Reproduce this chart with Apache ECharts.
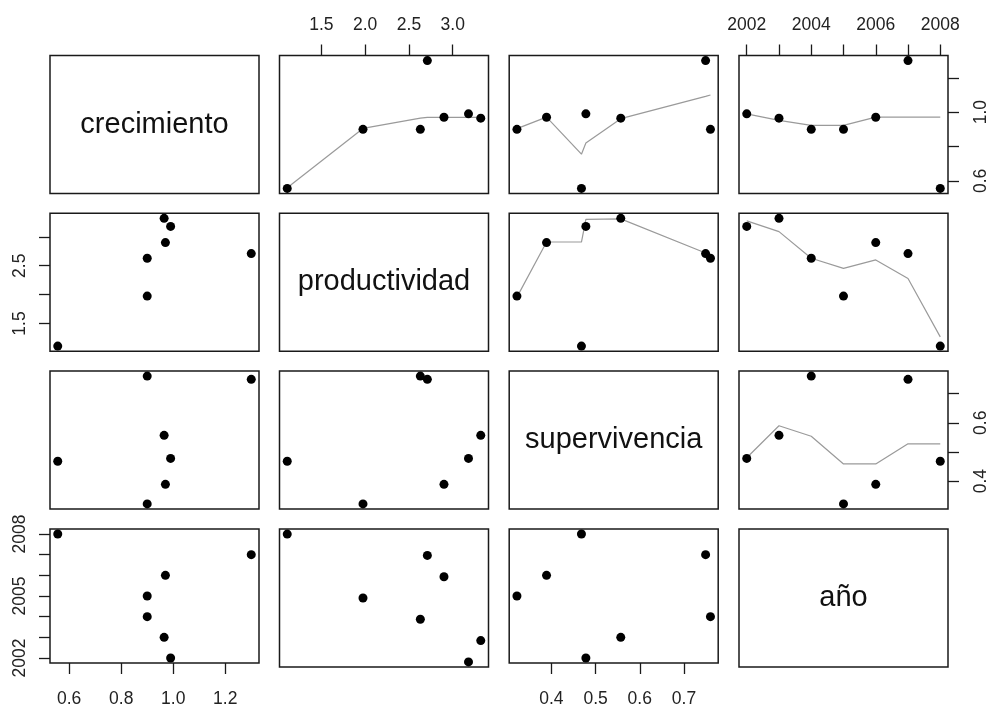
<!DOCTYPE html>
<html>
<head>
<meta charset="utf-8">
<script src="https://cdn.jsdelivr.net/npm/echarts@6/dist/echarts.min.js"></script>
<style>
html,body{margin:0;padding:0;background:#fff;}
#chart{width:990px;height:708px;}
</style>
</head>
<body>
<div id="chart"></div>
<script>
// ---- data (one value per year) ----
const anio = [2002, 2003, 2004, 2005, 2006, 2007, 2008];
const crecimiento = [0.99, 0.965, 0.90, 0.90, 0.97, 1.30, 0.556];
const productividad = [3.18, 3.32, 2.63, 1.975, 2.90, 2.71, 1.11];
const supervivencia = [0.478, 0.557, 0.76, 0.322, 0.389, 0.749, 0.468];

// ---- smoother (lowess) fitted values, in order of ascending x ----
const smoothCrecProd = [0.56, 0.905, 0.965, 0.97, 0.97, 0.97, 0.97];
const smoothCrecSuperv = [0.904, 0.971, 0.755, 0.82, 0.962, 1.092, 1.10];
const smoothCrecAnio = [0.99, 0.952, 0.923, 0.923, 0.971, 0.971, 0.971];
const smoothProdSuperv = [1.957, 2.91, 2.91, 3.30, 3.31, 2.72, 2.63];
const smoothProdAnio = [3.275, 3.09, 2.63, 2.455, 2.60, 2.28, 1.27];
const smoothSupervAnio = [0.48, 0.59, 0.554, 0.459, 0.459, 0.528, 0.528];

// ---- labels / ticks ----
const varNames = ['crecimiento', 'productividad', 'supervivencia', 'año'];
const tickValues = [[0.6, 0.8, 1.0, 1.2], [1.5, 2.0, 2.5, 3.0], [0.4, 0.5, 0.6, 0.7], [2002, 2003, 2004, 2005, 2006, 2007, 2008]];
const xLabelValues = [[0.6, 0.8, 1.0, 1.2], [1.5, 2.0, 2.5, 3.0], [0.4, 0.5, 0.6, 0.7], [2002, 2004, 2006, 2008]];
const yLabelValues = [[0.6, 1.0], [1.5, 2.5], [0.4, 0.6], [2002, 2005, 2008]];

const vars = [crecimiento, productividad, supervivencia, anio];
const smooths = {
  '0-1': smoothCrecProd, '0-2': smoothCrecSuperv, '0-3': smoothCrecAnio,
  '1-2': smoothProdSuperv, '1-3': smoothProdAnio, '2-3': smoothSupervAnio
};

// ---- layout ----
const lefts = [50, 279.5, 509.2, 739];
const tops = [55.5, 213.2, 371, 529];
const W = 209, H = 138;
const FONT = '"Liberation Sans", Arial, sans-serif';
const INK = '#1a1a1a';

function range(v) {
  const mn = Math.min(...v), mx = Math.max(...v);
  const p = (mx - mn) * 0.04;
  return [mn - p, mx + p];
}
function fmt(idx) {
  return idx === 3 ? (v => String(Math.round(v))) : (v => Number(v).toFixed(1));
}

const grids = [], xAxes = [], yAxes = [], series = [], graphics = [];
let gi = 0;
for (let r = 0; r < 4; r++) {
  for (let c = 0; c < 4; c++) {
    grids.push({
      left: lefts[c], top: tops[r], width: W, height: H,
      show: true, borderColor: INK, borderWidth: 1.5, backgroundColor: 'transparent'
    });
    const xr = range(vars[c]), yr = range(vars[r]);
    const showTop = (r === 0 && c % 2 === 1);
    const showBottom = (r === 3 && c % 2 === 0);
    const showX = showTop || showBottom;
    const showLeft = (c === 0 && r % 2 === 1);
    const showRight = (c === 3 && r % 2 === 0);
    const showY = showLeft || showRight;
    xAxes.push({
      gridIndex: gi, type: 'value', min: xr[0], max: xr[1],
      position: showTop ? 'top' : 'bottom',
      axisLine: { show: false }, splitLine: { show: false },
      axisTick: { show: showX, length: 11, customValues: tickValues[c], lineStyle: { color: INK, width: 1.3 } },
      axisLabel: {
        show: showX, customValues: xLabelValues[c], formatter: fmt(c),
        margin: showTop ? 21 : 27, fontSize: 17.5, fontFamily: FONT, color: '#222'
      }
    });
    yAxes.push({
      gridIndex: gi, type: 'value', min: yr[0], max: yr[1],
      position: showRight ? 'right' : 'left',
      axisLine: { show: false }, splitLine: { show: false },
      axisTick: { show: showY, length: 11, customValues: tickValues[r], lineStyle: { color: INK, width: 1.3 } },
      axisLabel: {
        show: showY, customValues: yLabelValues[r], formatter: fmt(r), rotate: 90,
        margin: showRight ? 24 : 21, fontSize: 17.5, fontFamily: FONT, color: '#222'
      }
    });
    if (r === c) {
      graphics.push({
        type: 'text', x: lefts[c] + W / 2, y: tops[r] + H / 2,
        style: { text: varNames[r], fontSize: 29, fontFamily: FONT, fill: '#111', align: 'center', verticalAlign: 'middle' }
      });
    } else {
      const xs = vars[c], ys = vars[r];
      if (r < c) {
        const fit = smooths[r + '-' + c];
        const sx = xs.slice().sort((a, b) => a - b);
        series.push({
          type: 'line', xAxisIndex: gi, yAxisIndex: gi, symbol: 'none', silent: true,
          lineStyle: { color: '#9a9a9a', width: 1.2 }, z: 1,
          data: sx.map((x, i) => [x, fit[i]])
        });
      }
      series.push({
        type: 'scatter', xAxisIndex: gi, yAxisIndex: gi, symbolSize: 9, z: 3,
        itemStyle: { color: '#000', opacity: 1 },
        data: xs.map((x, i) => [x, ys[i]])
      });
    }
    gi++;
  }
}

const chart = echarts.init(document.getElementById('chart'), null, { renderer: 'canvas' });
chart.setOption({
  backgroundColor: '#fff',
  animation: false,
  grid: grids, xAxis: xAxes, yAxis: yAxes, series: series,
  graphic: graphics
});
</script>
</body>
</html>
